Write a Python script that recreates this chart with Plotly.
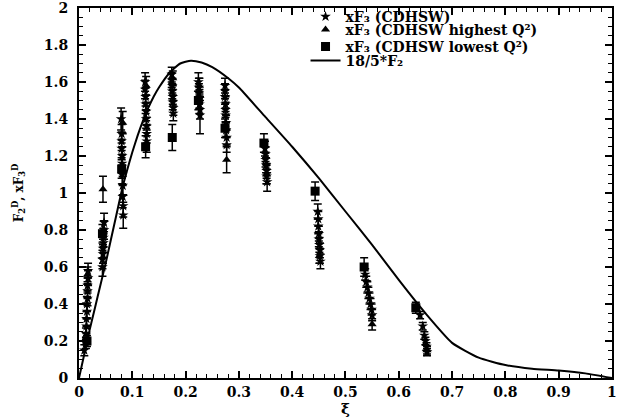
import plotly.graph_objects as go

# 18/5*F2 curve
curve_x = [0, 0.01, 0.02, 0.03, 0.04, 0.05, 0.06, 0.07, 0.08, 0.09, 0.10, 0.11, 0.12, 0.13, 0.14,
           0.15, 0.17, 0.19, 0.21, 0.23, 0.25, 0.28, 0.30, 0.35, 0.40, 0.45, 0.50, 0.55, 0.60,
           0.65, 0.70, 0.75, 0.80, 0.85, 0.90, 0.95, 1.0]
curve_y = [0, 0.13, 0.26, 0.38, 0.50, 0.62, 0.75, 0.88, 1.01, 1.12, 1.22, 1.31, 1.39, 1.46, 1.52,
           1.57, 1.65, 1.70, 1.715, 1.705, 1.68, 1.62, 1.57, 1.41, 1.25, 1.08, 0.90, 0.72, 0.53,
           0.35, 0.19, 0.11, 0.07, 0.05, 0.04, 0.025, 0.0]

# xF3 (CDHSW) - stars
star_x = [0.010, 0.013, 0.013, 0.014, 0.014, 0.015, 0.015, 0.016, 0.016, 0.016, 0.017, 0.017,
          0.044, 0.044, 0.045, 0.045, 0.046, 0.046, 0.047, 0.047,
          0.083, 0.083, 0.082, 0.082, 0.081, 0.081, 0.081, 0.080, 0.080, 0.080, 0.079,
          0.127, 0.127, 0.127, 0.126, 0.126, 0.125, 0.125, 0.124, 0.124,
          0.177, 0.177, 0.176, 0.176, 0.175, 0.175, 0.174, 0.174,
          0.227, 0.227, 0.226, 0.226, 0.225, 0.225, 0.224,
          0.277, 0.277, 0.276, 0.276, 0.275, 0.275, 0.275, 0.274, 0.274, 0.274,
          0.353, 0.352, 0.352, 0.351, 0.350, 0.350, 0.349,
          0.453, 0.452, 0.452, 0.451, 0.450, 0.450, 0.449, 0.449, 0.448,
          0.550, 0.549, 0.547, 0.545, 0.543, 0.541, 0.539, 0.537,
          0.640, 0.645, 0.648, 0.650, 0.652, 0.653]
star_y = [0.15, 0.19, 0.24, 0.28, 0.32, 0.36, 0.40, 0.43, 0.47, 0.50, 0.54, 0.58,
          0.60, 0.64, 0.67, 0.70, 0.73, 0.76, 0.80, 0.84,
          0.88, 0.93, 0.98, 1.04, 1.10, 1.16, 1.20, 1.24, 1.28, 1.32, 1.40,
          1.28, 1.32, 1.36, 1.40, 1.44, 1.48, 1.52, 1.56, 1.60,
          1.43, 1.46, 1.49, 1.52, 1.55, 1.58, 1.61, 1.64,
          1.42, 1.45, 1.48, 1.51, 1.54, 1.57, 1.60,
          1.26, 1.30, 1.34, 1.38, 1.42, 1.45, 1.48, 1.52, 1.55, 1.58,
          1.06, 1.09, 1.12, 1.15, 1.18, 1.21, 1.24,
          0.63, 0.66, 0.69, 0.72, 0.75, 0.78, 0.82, 0.86, 0.90,
          0.34, 0.37, 0.40, 0.43, 0.46, 0.49, 0.52, 0.56,
          0.34, 0.28, 0.23, 0.20, 0.17, 0.14]
star_err = [0.03, 0.03, 0.03, 0.04, 0.04, 0.04, 0.04, 0.04, 0.04, 0.04, 0.04, 0.04,
            0.05, 0.05, 0.05, 0.05, 0.05, 0.05, 0.05, 0.05,
            0.07, 0.06, 0.06, 0.05, 0.05, 0.05, 0.05, 0.05, 0.05, 0.05, 0.06,
            0.06, 0.05, 0.05, 0.05, 0.05, 0.05, 0.05, 0.05, 0.05,
            0.04, 0.04, 0.04, 0.04, 0.04, 0.04, 0.04, 0.04,
            0.10, 0.05, 0.05, 0.05, 0.05, 0.05, 0.05,
            0.04, 0.04, 0.04, 0.04, 0.04, 0.04, 0.04, 0.04, 0.04, 0.04,
            0.05, 0.04, 0.04, 0.04, 0.04, 0.04, 0.04,
            0.04, 0.04, 0.04, 0.04, 0.04, 0.04, 0.04, 0.04, 0.04,
            0.03, 0.03, 0.03, 0.03, 0.03, 0.03, 0.03, 0.03,
            0.02, 0.02, 0.02, 0.02, 0.02, 0.02]

# xF3 (CDHSW highest Q^2) - triangles
tri_x = [0.016, 0.045, 0.082, 0.126, 0.176, 0.226, 0.277, 0.352, 0.451, 0.550, 0.653]
tri_y = [0.56, 1.02, 1.38, 1.58, 1.62, 1.58, 1.18, 1.10, 0.66, 0.29, 0.15]
tri_err = [0.04, 0.07, 0.06, 0.05, 0.04, 0.04, 0.07, 0.05, 0.04, 0.03, 0.02]

# xF3 (CDHSW lowest Q^2) - squares
sq_x = [0.015, 0.044, 0.080, 0.125, 0.175, 0.224, 0.274, 0.347, 0.443, 0.535, 0.632]
sq_y = [0.20, 0.78, 1.13, 1.25, 1.30, 1.50, 1.35, 1.27, 1.01, 0.60, 0.38]
sq_err = [0.03, 0.05, 0.05, 0.06, 0.07, 0.05, 0.05, 0.05, 0.05, 0.05, 0.03]

legend_names = ["xF₃ (CDHSW)", "xF₃ (CDHSW highest Q²)", "xF₃ (CDHSW lowest Q²)", "18/5*F₂"]

FONT = "DejaVu Serif, Liberation Serif, serif"

def errbar(e):
    return dict(type="data", array=e, visible=True, color="black", thickness=1.5, width=4)

fig = go.Figure()
fig.add_trace(go.Scatter(x=star_x, y=star_y, mode="markers", error_y=errbar(star_err),
                         marker=dict(symbol="star", size=8, color="black"),
                         name=legend_names[0], legend="legend"))
fig.add_trace(go.Scatter(x=tri_x, y=tri_y, mode="markers", error_y=errbar(tri_err),
                         marker=dict(symbol="triangle-up", size=8, color="black"),
                         name=legend_names[1], legend="legend2"))
fig.add_trace(go.Scatter(x=sq_x, y=sq_y, mode="markers", error_y=errbar(sq_err),
                         marker=dict(symbol="square", size=9, color="black"),
                         name=legend_names[2], legend="legend3"))
fig.add_trace(go.Scatter(x=curve_x, y=curve_y, mode="lines",
                         line=dict(color="black", width=2, shape="spline", smoothing=0.5),
                         name=legend_names[3], legend="legend4"))

axis_common = dict(showline=True, linecolor="black", linewidth=2, mirror="ticks",
                   ticks="inside", ticklen=7, tickwidth=1.5, tickcolor="black",
                   showgrid=False, zeroline=False, automargin=False, ticklabeloverflow="allow",
                   tickfont=dict(family=FONT, size=14, color="black", weight="bold"))

xtick_vals = [0, 0.1, 0.2, 0.3, 0.4, 0.5, 0.6, 0.7, 0.8, 0.9, 1.0]
xtick_text = ["0", "0.1", "0.2", "0.3", "0.4", "0.5", "0.6", "0.7", "0.8", "0.9", "1"]

legend_font = dict(family=FONT, size=14, color="black", weight="bold")

def leg(yc):
    return dict(x=0.425, y=yc, xanchor="left", yanchor="middle", bgcolor="rgba(0,0,0,0)",
                font=legend_font, itemwidth=30, tracegroupgap=0)

fig.update_layout(
    width=622, height=419,
    margin=dict(l=79, r=10, t=8, b=41, autoexpand=False),
    paper_bgcolor="white", plot_bgcolor="white",
    font=dict(family=FONT, color="black", weight="bold"),
    xaxis=dict(range=[0, 1.0001], tickmode="array", tickvals=xtick_vals, ticktext=xtick_text,
               minor=dict(dtick=0.02, ticks="inside", ticklen=4, tickcolor="black", tickwidth=1),
               title=dict(text="ξ", font=dict(family=FONT, size=15, color="black", weight="bold"), standoff=0),
               **axis_common),
    yaxis=dict(range=[0, 2], dtick=0.2, tick0=0, ticklabelstandoff=6,
               minor=dict(dtick=0.05, ticks="inside", ticklen=4, tickcolor="black", tickwidth=1),
               title=dict(text="F<sub>2</sub><sup>D</sup>, xF<sub>3</sub><sup>D</sup>",
                          font=dict(family=FONT, size=12, color="black", weight="bold"), standoff=18),
               **axis_common),
    legend=leg(0.9757),
    legend2=leg(0.9405),
    legend3=leg(0.8946),
    legend4=leg(0.8568),
    showlegend=True,
)

fig.write_html("out.html", config={"displayModeBar": False},
               post_script="document.body.style.margin='0px';")
